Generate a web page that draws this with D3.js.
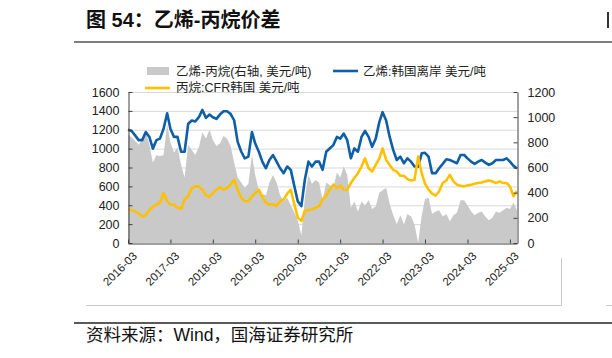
<!DOCTYPE html>
<html><head><meta charset="utf-8">
<script src="https://cdn.jsdelivr.net/npm/d3@7/dist/d3.min.js"></script>
<style>
body{margin:0;background:#fff;}
text{font-family:"Liberation Sans","Noto Sans CJK SC",Arial,sans-serif;}
</style></head>
<body><svg id="c" width="612" height="358"></svg>
<script>
const startMonth = new Date(2016, 2, 1);
const monthCount = 111;
const xTickLabels = ["2016-03","2017-03","2018-03","2019-03","2020-03","2021-03","2022-03","2023-03","2024-03","2025-03"];
const leftTicks = [0,200,400,600,800,1000,1200,1400,1600];
const rightTicks = [0,200,400,600,800,1000,1200];
const seriesNames = ["乙烯-丙烷(右轴, 美元/吨)","乙烯:韩国离岸 美元/吨","丙烷:CFR韩国 美元/吨"];

const ethylene = [
1200,1187,1140,1090,1090,1176,1124,1000,1090,1106,
1211,1375,1211,1124,1124,967,967,1263,1298,1288,
1333,1410,1326,1361,1333,1316,1361,1396,1396,1368,
1298,1071,967,897,915,1176,1054,967,862,792,
880,932,862,792,740,810,775,600,443,391,
670,862,810,862,862,775,967,1002,1037,1124,
1106,1159,1090,897,1002,967,1124,1187,1124,1019,
1106,1281,1386,1298,1124,984,880,915,845,897,
862,810,810,950,956,915,740,740,792,838,
887,880,862,845,932,932,897,862,838,862,
880,852,827,845,880,880,880,897,862,817,789];

const propane = [
356,349,332,314,279,293,349,384,408,426,
530,443,408,408,373,363,461,496,583,600,
600,565,503,489,530,565,593,565,583,618,
670,565,478,443,443,496,530,565,489,426,
408,408,391,443,461,524,565,408,269,234,
339,349,356,373,391,461,503,565,618,583,
607,565,565,635,688,740,810,897,792,757,
827,897,1002,880,827,775,757,712,712,677,
663,670,915,740,628,565,524,503,548,635,
663,722,653,618,607,600,611,618,628,635,
642,653,663,653,635,653,635,635,600,496,548];

const spread = [
860,840,810,780,820,890,780,640,700,690,
700,940,800,720,760,620,520,780,740,700,
760,880,830,900,820,770,790,850,830,770,
640,520,480,440,470,700,540,420,390,380,
480,540,480,380,330,360,300,240,180,60,
360,540,470,500,480,340,480,460,440,560,
520,610,540,280,330,250,330,300,340,270,
290,400,420,440,310,220,150,220,150,230,
210,150,0,220,350,360,230,250,260,210,
230,170,220,240,340,340,300,250,220,240,
250,210,180,200,250,240,260,280,270,320,260];

const months = d3.range(monthCount).map(i => d3.timeMonth.offset(startMonth, i));
const parse = d3.timeParse("%Y-%m");
const fmt = d3.timeFormat("%Y-%m");

const svg = d3.select("#c");
const L = 128, R = 517, T = 92, B = 243;
const x = d3.scaleTime().domain([months[0], months[monthCount-1]]).range([L, R]);
const yL = d3.scaleLinear().domain([0,1600]).range([B, T]);
const yR = d3.scaleLinear().domain([0,1200]).range([B, T]);

const colors = {gray:"#c9c9c9", blue:"#0f5fa6", yellow:"#ffc000", grid:"#d9d9d9", axis:"#404040", text:"#222"};

// Title
svg.append("text").attr("x",86).attr("y",27).attr("font-size",20).attr("font-weight","bold")
  .attr("fill","#111").text("图 54：乙烯-丙烷价差");
svg.append("line").attr("x1",74).attr("x2",612).attr("y1",42).attr("y2",42).attr("stroke","#555").attr("stroke-width",1.5);
svg.append("rect").attr("x",607).attr("y",12).attr("width",2).attr("height",16).attr("fill","#333");

// gridlines
svg.append("g").selectAll("line").data(leftTicks.filter(d=>d>0)).join("line")
  .attr("x1",L).attr("x2",R).attr("y1",d=>yL(d)+0.5).attr("y2",d=>yL(d)+0.5)
  .attr("stroke",colors.grid).attr("stroke-width",1);

// spread area (right axis)
const area = d3.area().x((d,i)=>x(months[i])).y0(yR(0)).y1(d=>yR(Math.max(0,Math.min(1200,d))));
svg.append("path").datum(spread).attr("d",area).attr("fill",colors.gray);

// lines
const lineL = d3.line().x((d,i)=>x(months[i])).y(d=>yL(d));
svg.append("path").datum(ethylene).attr("d",lineL).attr("fill","none").attr("stroke",colors.blue).attr("stroke-width",2.6).attr("stroke-linejoin","round");
svg.append("path").datum(propane).attr("d",lineL).attr("fill","none").attr("stroke",colors.yellow).attr("stroke-width",2.6).attr("stroke-linejoin","round");

// axes
const nf = d3.format("d");
const gl = svg.append("g").attr("transform",`translate(${L+0.5},0)`)
  .call(d3.axisLeft(yL).tickValues(leftTicks).tickFormat(nf).tickSize(-4).tickSizeOuter(0).tickPadding(9));
const gr = svg.append("g").attr("transform",`translate(${R+0.5},0)`)
  .call(d3.axisRight(yR).tickValues(rightTicks).tickFormat(nf).tickSize(-4).tickSizeOuter(0).tickPadding(10));
const xTickDates = xTickLabels.map(parse);
const gb = svg.append("g").attr("transform",`translate(0,${B+0.5})`)
  .call(d3.axisBottom(x).tickValues(xTickDates).tickSize(-4).tickSizeOuter(0).tickFormat(""));
[gl,gr,gb].forEach(g=>{
  g.selectAll("path,line").attr("stroke",colors.axis);
  g.selectAll("text").attr("font-size",12.5).attr("fill",colors.text).attr("font-family","Liberation Sans, Arial, sans-serif");
});
svg.append("g").selectAll("text").data(xTickDates).join("text")
  .attr("transform",d=>`translate(${x(d)+4},${B+8}) rotate(-45)`)
  .attr("text-anchor","end").attr("dy","0.7em").attr("font-size",11.5).attr("fill",colors.text)
  .text(d=>fmt(d));

// legend
const lg = svg.append("g").attr("font-size",12.5).attr("fill",colors.text);
lg.append("rect").attr("x",147).attr("y",67).attr("width",22).attr("height",8).attr("fill",colors.gray);
lg.append("text").attr("x",176).attr("y",75.5).text(seriesNames[0]);
lg.append("line").attr("x1",333).attr("x2",358).attr("y1",71).attr("y2",71).attr("stroke",colors.blue).attr("stroke-width",2.6);
lg.append("text").attr("x",363).attr("y",75.5).text(seriesNames[1]);
lg.append("line").attr("x1",145).attr("x2",170).attr("y1",88).attr("y2",88).attr("stroke",colors.yellow).attr("stroke-width",2.6);
lg.append("text").attr("x",176).attr("y",92).text(seriesNames[2]);

// frame fragments
svg.append("path").attr("d","M86,305.5H561.5V258").attr("fill","none").attr("stroke","#c8c8c8").attr("stroke-width",1);
svg.append("line").attr("x1",606).attr("x2",612).attr("y1",305.5).attr("y2",305.5).attr("stroke","#c8c8c8");

// source
svg.append("line").attr("x1",74).attr("x2",612).attr("y1",323).attr("y2",323).attr("stroke","#222").attr("stroke-width",1.5);
svg.append("text").attr("x",86).attr("y",341).attr("font-size",17.5).attr("fill","#111").text("资料来源：Wind，国海证券研究所");
</script></body></html>
